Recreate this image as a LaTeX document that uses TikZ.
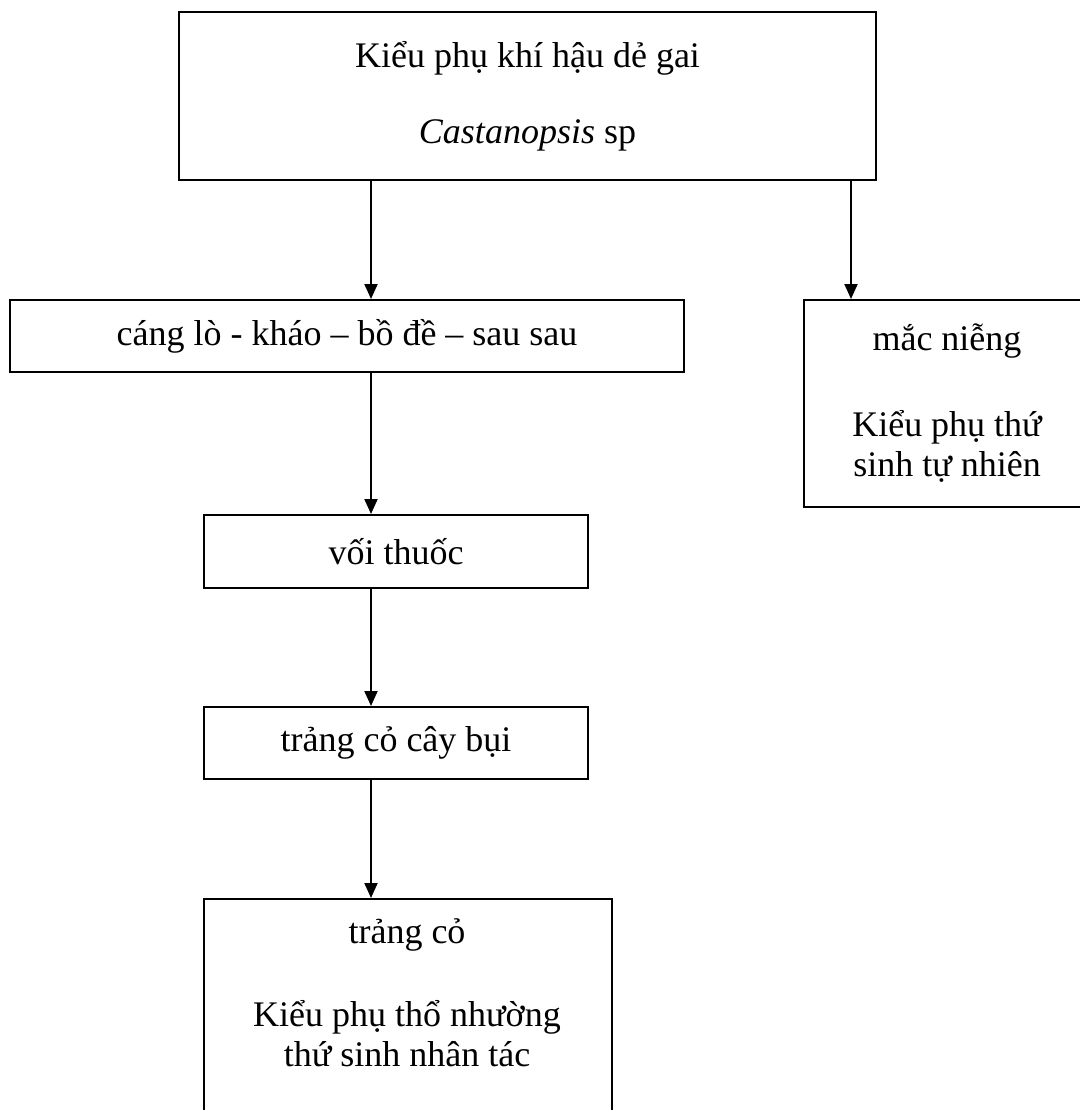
\documentclass[tikz,border=0pt]{standalone}
\usepackage{fontspec}
\setmainfont{Liberation Serif}
\usetikzlibrary{arrows.meta}

\tikzset{
  caja/.style={draw, line width=2pt, inner sep=0pt, anchor=north west, align=center},
  flecha/.style={-{Triangle[length=15pt,width=13pt]}, line width=2pt},
}

\begin{document}
\begin{tikzpicture}[x=1pt, y=-1pt, font=\fontsize{36}{40}\selectfont]
  \useasboundingbox (0,0) rectangle (1079,1110);
  % Ejes de las flechas
  \coordinate (ejeI) at (371,0);
  \coordinate (ejeD) at (851,0);
  % Kieu phu khi hau
  \node[caja, minimum width=697pt, minimum height=168pt] (khihau) at (178,11)
    {Kiểu phụ khí hậu dẻ gai\\[36pt]\textit{Castanopsis} sp};
  % Rama izquierda
  \node[caja, minimum width=674pt, minimum height=72pt] (cang) at (9,299)
    {cáng lò - kháo – bồ đề – sau sau};
  \node[caja, minimum width=384pt, minimum height=73pt] (voi) at (203,514) {vối thuốc};
  \node[caja, minimum width=384pt, minimum height=72pt] (caybui) at (203,706) {trảng cỏ cây bụi};
  \node[caja, minimum width=408pt, minimum height=240pt] (trangco) at (203,898) {};
  \node[anchor=north, align=center, inner sep=0pt] (ttrangco) at (407,918)
    {trảng cỏ\\[43pt]Kiểu phụ thổ nhường\\thứ sinh nhân tác};
  % Rama derecha
  \node[caja, minimum width=286pt, minimum height=207pt] (macnieng) at (803,299)
    {mắc niễng\\[46pt]Kiểu phụ thứ\\sinh tự nhiên};
  % Flechas
  \draw[flecha] (khihau.south -| ejeI) -- (cang.north -| ejeI);
  \draw[flecha] (khihau.south -| ejeD) -- (macnieng.north -| ejeD);
  \draw[flecha] (cang.south -| ejeI) -- (voi.north -| ejeI);
  \draw[flecha] (voi.south -| ejeI) -- (caybui.north -| ejeI);
  \draw[flecha] (caybui.south -| ejeI) -- (trangco.north -| ejeI);
\end{tikzpicture}
\end{document}
